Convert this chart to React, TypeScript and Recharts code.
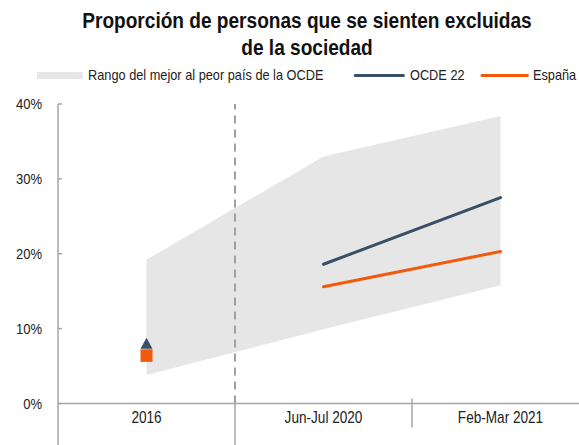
import React from 'react';
import { ComposedChart, Area, Line, Scatter, XAxis, YAxis, ReferenceLine, Legend } from 'recharts';

const categories = ['2016', 'Jun-Jul 2020', 'Feb-Mar 2021'];
const rangeMin = [3.8, 9.9, 15.8];
const rangeMax = [19.2, 33.0, 38.4];
const ocde = [7.8, 18.6, 27.5];
const espana = [6.4, 15.6, 20.3];
const yTicks = [0, 10, 20, 30, 40];

// 2016 survey is shown as isolated markers, the 2020-2021 waves as lines
const firstLinked = 1;
const breakAt = 0.5;

// no narrow font installed, so text is squeezed horizontally instead
const FONT = "'Liberation Sans', Arial, sans-serif";
const GREY = '#e6e6e6';
const NAVY = '#3a4f66';
const ORANGE = '#f15a0b';
const AXIS = '#a6a6a6';

const data = categories.map((c, i) => ({
  idx: i,
  name: c,
  range: [rangeMin[i], rangeMax[i]],
  ocde: i >= firstLinked ? ocde[i] : null,
  espana: i >= firstLinked ? espana[i] : null,
}));
const ocdeMarks = [{ idx: 0, v: ocde[0] }];
const espanaMarks = [{ idx: 0, v: espana[0] }];

const xTicks = [-0.5, 0, 0.5, 1, 1.5, 2];

function XTick(props: any) {
  const { x, y, payload } = props;
  const v = payload.value;
  if (Number.isInteger(v)) {
    return (
      <text
        transform={`translate(${x},${y + 19}) scale(0.85,1)`}
        textAnchor="middle"
        fontSize={16}
        fill="#222"
        fontFamily={FONT}
      >
        {categories[v]}
      </text>
    );
  }
  const long = v === -0.5 || v === breakAt;
  return <line x1={x} x2={x} y1={long ? y : y - 5} y2={long ? y + 42 : y + 24} stroke={AXIS} strokeWidth={1.5} />;
}

function YTick(props: any) {
  const { x, y, payload } = props;
  return (
    <text
      transform={`translate(${x},${y + 5}) scale(0.87,1)`}
      textAnchor="end"
      fontSize={15}
      fill="#222"
      fontFamily={FONT}
    >
      {`${payload.value}%`}
    </text>
  );
}

const triangle = (p: any) => (
  <path d={`M${p.cx},${p.cy - 7.3}L${p.cx + 6},${p.cy + 3.7}L${p.cx - 6},${p.cy + 3.7}Z`} fill={NAVY} />
);
const square = (p: any) => <rect x={p.cx - 6} y={p.cy - 6.3} width={12} height={12.6} fill={ORANGE} />;

function LegendContent() {
  const s = 0.88;
  const items = [
    { label: 'Rango del mejor al peor país de la OCDE', kind: 'box', color: GREY, mark: 46, gap: 5, text: 245, after: 21 },
    { label: 'OCDE 22', kind: 'line', color: NAVY, mark: 51, gap: 5, text: 52, after: 19 },
    { label: 'España', kind: 'line', color: ORANGE, mark: 48, gap: 4, text: 44, after: 0 },
  ];
  return (
    <div
      style={{
        display: 'flex',
        alignItems: 'center',
        fontFamily: FONT,
        fontSize: 14.5,
        color: '#222',
        whiteSpace: 'nowrap',
        transform: `scaleX(${s})`,
        transformOrigin: 'left center',
      }}
    >
      {items.map((it) => (
        <div key={it.label} style={{ display: 'flex', alignItems: 'center', marginRight: it.after / s }}>
          <span
            style={{
              display: 'inline-block',
              width: it.mark / s,
              height: it.kind === 'box' ? 7 : 3,
              borderRadius: it.kind === 'box' ? 0 : 2,
              background: it.color,
              marginRight: it.gap / s,
            }}
          />
          <span style={{ display: 'inline-block', width: it.text / s }}>{it.label}</span>
        </div>
      ))}
    </div>
  );
}

export default function App() {
  return (
    <div style={{ position: 'absolute', left: 0, top: 0, width: 579, height: 445, overflow: 'hidden', background: '#fff' }}>
      <div
        style={{
          position: 'absolute',
          left: 0,
          top: 8,
          width: 614,
          textAlign: 'center',
          fontFamily: FONT,
          fontWeight: 'bold',
          fontSize: 22,
          lineHeight: '26.7px',
          color: '#111',
          zIndex: 2,
          transform: 'scaleX(0.867)',
          transformOrigin: '307px 0',
        }}
      >
        Proporción de personas que se sienten excluidas
        <br />
        de la sociedad
      </div>
      <ComposedChart width={600} height={445} data={data} margin={{ top: 104, right: 11, bottom: 0, left: 0 }}>
        <Legend
          verticalAlign="middle"
          layout="horizontal"
          content={() => <LegendContent />}
          wrapperStyle={{ top: 67, left: 37, width: 560 }}
        />
        <XAxis
          type="number"
          dataKey="idx"
          domain={[-0.5, 2.5]}
          ticks={xTicks}
          interval={0}
          allowDataOverflow
          tickLine={false}
          tickSize={0}
          tickMargin={0}
          tick={<XTick />}
          axisLine={{ stroke: AXIS, strokeWidth: 1.5 }}
          height={41.5}
        />
        <YAxis
          domain={[0, 40]}
          ticks={yTicks}
          width={58}
          tickSize={-4}
          tickMargin={20}
          axisLine={{ stroke: AXIS, strokeWidth: 1.5 }}
          tickLine={{ stroke: AXIS, strokeWidth: 1.5 }}
          tick={<YTick />}
        />
        <Area
          dataKey="range"
          name="Rango del mejor al peor país de la OCDE"
          type="linear"
          fill={GREY}
          fillOpacity={1}
          stroke="none"
          isAnimationActive={false}
        />
        <ReferenceLine x={breakAt} stroke="#a0a0a0" strokeWidth={2} strokeDasharray="8 6" />
        <Line
          dataKey="ocde"
          name="OCDE 22"
          type="linear"
          stroke={NAVY}
          strokeWidth={3}
          strokeLinecap="round"
          dot={false}
          isAnimationActive={false}
        />
        <Line
          dataKey="espana"
          name="España"
          type="linear"
          stroke={ORANGE}
          strokeWidth={3}
          strokeLinecap="round"
          dot={false}
          isAnimationActive={false}
        />
        <Scatter data={ocdeMarks} dataKey="v" shape={triangle} legendType="none" isAnimationActive={false} />
        <Scatter data={espanaMarks} dataKey="v" shape={square} legendType="none" isAnimationActive={false} />
      </ComposedChart>
    </div>
  );
}
